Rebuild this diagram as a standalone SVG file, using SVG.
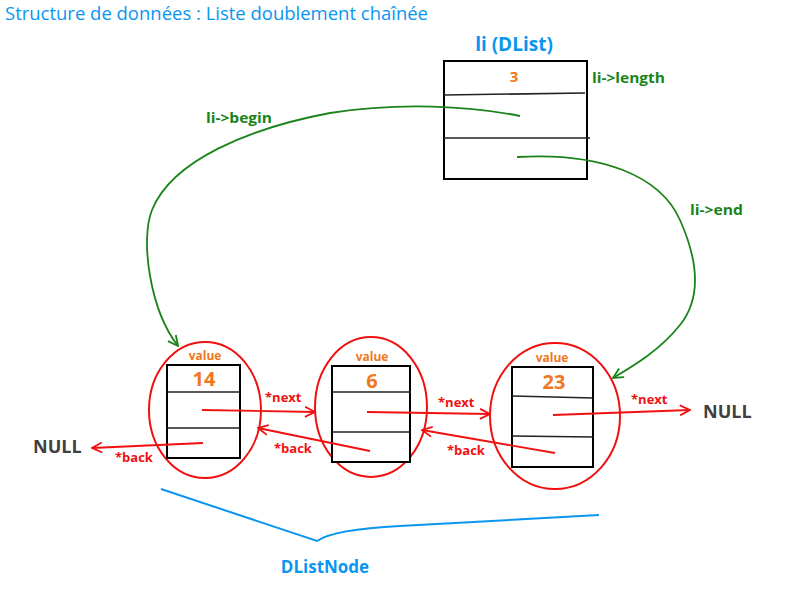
<svg xmlns="http://www.w3.org/2000/svg" width="800" height="600" viewBox="0 0 800 600">
<defs>
<style>
text{font-family:"Open Sans","Liberation Sans",sans-serif;font-weight:bold}
.blue{fill:#0a96f0}
.or{fill:#f07820}
.gr{fill:#1a841a}
.rd{fill:#f01010;font-size:13px}
.null{fill:#404040;font-size:18px}
.box{fill:#fff;stroke:#000;stroke-width:2}
.sep{stroke:#222;stroke-width:1.6;fill:none}
.ell{fill:none;stroke:#f01010;stroke-width:2}
.ra{stroke:#f01010;stroke-width:1.8;fill:none;marker-end:url(#ar)}
.ga{stroke:#1a841a;stroke-width:1.8;fill:none;marker-end:url(#ag)}
</style>
<marker id="ar" viewBox="0 0 12 12" refX="11" refY="6" markerWidth="12" markerHeight="12" markerUnits="userSpaceOnUse" orient="auto"><path d="M1,1 L11,6 L1,11" fill="none" stroke="#f01010" stroke-width="1.8"/></marker>
<marker id="ag" viewBox="0 0 12 12" refX="11" refY="6" markerWidth="12" markerHeight="12" markerUnits="userSpaceOnUse" orient="auto"><path d="M1,1 L11,6 L1,11" fill="none" stroke="#1a841a" stroke-width="1.8"/></marker>
</defs>
<rect width="800" height="600" fill="#fff"/>
<text x="5" y="20" class="blue" style="font-weight:normal;font-size:18px" textLength="423" lengthAdjust="spacingAndGlyphs">Structure de données : Liste doublement chaînée</text>

<g id="dlist">
<text x="514" y="51" class="blue" text-anchor="middle" font-size="19">li (DList)</text>
<rect class="box" x="444" y="61" width="143" height="118"/>
<path class="sep" d="M444,95 L585,93 M444,138 L590,138"/>
<text x="514" y="82" class="or" text-anchor="middle" font-size="15">3</text>
<text x="592" y="83" class="gr" font-size="15" textLength="73" lengthAdjust="spacingAndGlyphs">li-&gt;length</text>
</g>

<g id="node1">
<ellipse class="ell" cx="205" cy="410" rx="56" ry="68"/>
<rect class="box" x="167" y="365" width="73" height="93"/>
<path class="sep" d="M167,392 L240,392 M167,428 L240,428"/>
<text x="205" y="360" class="or" text-anchor="middle" font-size="12">value</text>
<text x="204" y="386" class="or" text-anchor="middle" font-size="20">14</text>
</g>

<g id="node2">
<ellipse class="ell" cx="371" cy="407" rx="56" ry="70"/>
<rect class="box" x="332" y="366" width="78" height="96"/>
<path class="sep" d="M332,392 L411,392 M332,432 L410,432"/>
<text x="372" y="361" class="or" text-anchor="middle" font-size="12">value</text>
<text x="372" y="388" class="or" text-anchor="middle" font-size="20">6</text>
</g>

<g id="node3">
<ellipse class="ell" cx="555" cy="416" rx="65" ry="73"/>
<rect class="box" x="512" y="367" width="81" height="100"/>
<path class="sep" d="M512,396 L593,398 M512,436 L593,437"/>
<text x="552" y="362" class="or" text-anchor="middle" font-size="12">value</text>
<text x="554" y="389" class="or" text-anchor="middle" font-size="20">23</text>
</g>

<g id="null-left"><text x="33" y="453" class="null">NULL</text></g>
<g id="null-right"><text x="703" y="418" class="null">NULL</text></g>

<g id="connectors">
<path class="ga" d="M520,116 C470,106 400,102 330,113 C250,128 172,160 152,210 C140,240 150,310 178,346"/>
<path class="ga" d="M517,157 C600,152 660,175 680,220 C700,265 700,300 680,325 C660,350 635,365 613,378"/>
<path class="ra" d="M202,410 L315,412"/>
<path class="ra" d="M370,451 L258,428"/>
<path class="ra" d="M367,412 L490,414"/>
<path class="ra" d="M555,453 L422,430"/>
<path class="ra" d="M553,415 L690,410"/>
<path class="ra" d="M203,443 L92,448"/>
</g>

<g id="labels">
<text x="206" y="123" class="gr" font-size="15" textLength="66" lengthAdjust="spacingAndGlyphs">li-&gt;begin</text>
<text x="690" y="215" class="gr" font-size="15" textLength="53" lengthAdjust="spacingAndGlyphs">li-&gt;end</text>
<text x="265" y="402" class="rd">*next</text>
<text x="274" y="453" class="rd">*back</text>
<text x="438" y="407" class="rd">*next</text>
<text x="447" y="455" class="rd">*back</text>
<text x="631" y="404" class="rd">*next</text>
<text x="115" y="462" class="rd">*back</text>
</g>

<g id="brace">
<path d="M161,489 L317,541 C330,532 360,528 400,526 L599,515" fill="none" stroke="#0a96f0" stroke-width="2"/>
<text x="325" y="573" class="blue" text-anchor="middle" font-size="17">DListNode</text>
</g>
</svg>
